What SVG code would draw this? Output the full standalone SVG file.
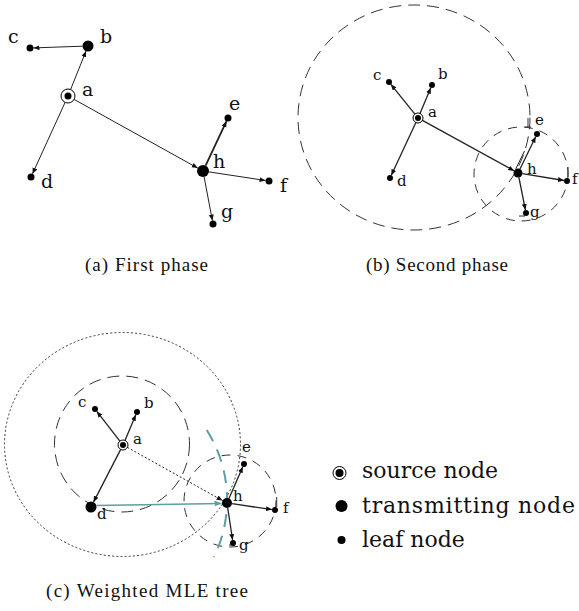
<svg xmlns="http://www.w3.org/2000/svg" width="579" height="611" viewBox="0 0 579 611">
<style>
  .lbl { font-family: "DejaVu Serif", serif; fill: #111; }
  .la { font-size: 19px; }
  .lb { font-size: 15px; }
  .cap { font-family: "Liberation Serif", "Times New Roman", serif; font-size: 19px; fill: #111; }
  .leg { font-family: "DejaVu Serif", serif; font-size: 22px; fill: #111; }
  .dot { fill: #000; }
  .ring { fill: none; stroke: #000; stroke-width: 1; }
  .edge { stroke: #222; stroke-width: 1; fill: none; marker-end: url(#ah); }
  .edge2 { stroke: #222; stroke-width: 1.3; fill: none; marker-end: url(#ah); }
  .dash { fill: none; stroke: #333; stroke-width: 1; stroke-dasharray: 12 7; }
  .dashs { fill: none; stroke: #333; stroke-width: 1; stroke-dasharray: 9 7; }
  .dotted { fill: none; stroke: #333; stroke-width: 1; stroke-dasharray: 2 2.2; }
  .teal { stroke: #5e9ea0; fill: none; }
  .tick { stroke: #333; stroke-width: 1; }
</style>
<defs>
  <marker id="ah" markerUnits="userSpaceOnUse" markerWidth="7" markerHeight="6" refX="6" refY="2.5" orient="auto">
    <path d="M0,0 L6,2.5 L0,5 z" fill="#111"/>
  </marker>
  <marker id="aht" markerUnits="userSpaceOnUse" markerWidth="8" markerHeight="7" refX="7" refY="3" orient="auto">
    <path d="M0,0 L7,3 L0,6 z" fill="#5e9ea0"/>
  </marker>
</defs>

<!-- ===== Panel (a) ===== -->
<g id="a-connectors">
  <line class="edge" x1="70.6" y1="89.5" x2="86" y2="51.1"/>
  <line class="edge" x1="82.5" y1="46.2" x2="33.5" y2="47.9"/>
  <line class="edge" x1="65.1" y1="102.4" x2="32.5" y2="173.8"/>
  <line class="edge" x1="74.1" y1="99.4" x2="197.8" y2="168.1"/>
  <line class="edge" x1="205.6" y1="165.6" x2="226.5" y2="121.2" style="stroke-width:1.8"/>
  <line class="edge" x1="208.9" y1="171.9" x2="265.5" y2="180.5"/>
  <line class="edge" x1="204.1" y1="176.9" x2="212.4" y2="220.6"/>
</g>
<g id="a-node-a"><circle class="ring" cx="68" cy="96" r="7"/><circle class="dot" cx="68" cy="96" r="3.5"/><text class="lbl la" x="82" y="96">a</text></g>
<g id="a-node-b"><circle class="dot" cx="88" cy="46" r="5.5"/><text class="lbl la" x="100" y="43">b</text></g>
<g id="a-node-c"><circle class="dot" cx="30" cy="48" r="3.5"/><text class="lbl la" x="8" y="43">c</text></g>
<g id="a-node-d"><circle class="dot" cx="31" cy="177" r="3.5"/><text class="lbl la" x="41" y="188">d</text></g>
<g id="a-node-h"><circle class="dot" cx="203" cy="171" r="6"/><text class="lbl la" x="213" y="168">h</text></g>
<g id="a-node-e"><circle class="dot" cx="228" cy="118" r="3.5"/><text class="lbl la" x="229" y="110">e</text></g>
<g id="a-node-f"><circle class="dot" cx="269" cy="181" r="3.5"/><text class="lbl la" x="280" y="192">f</text></g>
<g id="a-node-g"><circle class="dot" cx="213" cy="224" r="3.5"/><text class="lbl la" x="221" y="218">g</text></g>
<text class="cap" x="85" y="271" textLength="123" lengthAdjust="spacing">(a) First phase</text>

<!-- ===== Panel (b) ===== -->
<g id="b-ranges">
  <ellipse class="dash" cx="414" cy="117.5" rx="116" ry="112.5"/>
  <circle class="dashs" cx="521" cy="174" r="47"/>
  <line class="tick" x1="528" y1="118" x2="528" y2="127"/>
  <line class="tick" x1="525" y1="127" x2="531" y2="127"/>
  <line class="tick" x1="568" y1="167" x2="568" y2="177"/>
  <line class="tick" x1="519" y1="216" x2="525" y2="216"/>
</g>
<g id="b-connectors">
  <line class="edge2" x1="414.9" y1="114.1" x2="390.9" y2="84.3"/>
  <line class="edge2" x1="420" y1="113.4" x2="430.8" y2="87.8"/>
  <line class="edge2" x1="415.9" y1="122.5" x2="391.3" y2="175.3"/>
  <line class="edge2" x1="422.4" y1="120.4" x2="514.1" y2="170.8"/>
  <line class="edge2" x1="520" y1="169" x2="535.7" y2="136.7"/>
  <line stroke="#222" stroke-width="1" x1="515.8" y1="168.8" x2="524.5" y2="151"/>
  <line class="edge2" x1="522.4" y1="173.7" x2="564" y2="180.5"/>
  <line class="edge2" x1="518.9" y1="177.4" x2="525.4" y2="210"/>
</g>
<g id="b-node-a"><circle class="ring" cx="418" cy="118" r="5"/><circle class="dot" cx="418" cy="118" r="3"/><text class="lbl lb" x="428" y="117">a</text></g>
<g id="b-node-b"><circle class="dot" cx="432" cy="85" r="3"/><text class="lbl lb" x="438" y="79">b</text></g>
<g id="b-node-c"><circle class="dot" cx="389" cy="82" r="3"/><text class="lbl lb" x="373" y="80">c</text></g>
<g id="b-node-d"><circle class="dot" cx="390" cy="178" r="3"/><text class="lbl lb" x="397" y="186">d</text></g>
<g id="b-node-h"><circle class="dot" cx="518" cy="173" r="4.5"/><text class="lbl lb" x="527" y="174">h</text></g>
<g id="b-node-e"><circle class="dot" cx="537" cy="134" r="3"/><text class="lbl lb" x="535" y="125">e</text></g>
<g id="b-node-f"><circle class="dot" cx="567" cy="181" r="3"/><text class="lbl lb" x="572" y="184">f</text></g>
<g id="b-node-g"><circle class="dot" cx="526" cy="213" r="3"/><text class="lbl lb" x="530" y="217">g</text></g>
<text class="cap" x="366" y="271" textLength="142" lengthAdjust="spacing">(b) Second phase</text>

<!-- ===== Panel (c) ===== -->
<g id="c-ranges">
  <ellipse class="dotted" cx="122.5" cy="444.5" rx="118" ry="112"/>
  <ellipse class="dash" cx="122" cy="444" rx="67.5" ry="68"/>
  <circle class="dashs" cx="230" cy="501" r="46"/>
  <path class="teal" d="M206.7 430 A130.5 130.5 0 0 1 214 557" stroke-width="2" stroke-dasharray="13 9"/>
  <line class="tick" x1="276.7" y1="497" x2="276.7" y2="507"/>
  <line class="tick" x1="229" y1="545" x2="235" y2="545"/>
</g>
<g id="c-connectors">
  <line class="edge2" x1="119.9" y1="441.1" x2="96.8" y2="411.4"/>
  <line class="edge2" x1="125" y1="440.4" x2="135.8" y2="414.8"/>
  <line class="edge2" x1="120.7" y1="449.4" x2="93.5" y2="502.1"/>
  <line class="edge" x1="127.4" y1="447.4" x2="222.6" y2="500.6" style="stroke-dasharray:2 2"/>
  <line class="teal" x1="96.5" y1="505.5" x2="221.5" y2="503.5" stroke-width="1.6" marker-end="url(#aht)"/>
  <line class="edge2" x1="229" y1="498.4" x2="242.8" y2="466.8"/>
  <line class="edge2" x1="232" y1="503.7" x2="272" y2="509.6"/>
  <line class="edge2" x1="227.7" y1="508" x2="232.6" y2="540"/>
</g>
<g id="c-node-a"><circle class="ring" cx="123" cy="445" r="5"/><circle class="dot" cx="123" cy="445" r="3"/><text class="lbl lb" x="133" y="444">a</text></g>
<g id="c-node-b"><circle class="dot" cx="137" cy="412" r="3"/><text class="lbl lb" x="144" y="408">b</text></g>
<g id="c-node-c"><circle class="dot" cx="95" cy="409" r="3"/><text class="lbl lb" x="78" y="407">c</text></g>
<g id="c-node-d"><circle class="dot" cx="91" cy="507" r="5.5"/><text class="lbl lb" x="97" y="519">d</text></g>
<g id="c-node-h"><circle class="dot" cx="227" cy="503" r="5"/><text class="lbl lb" x="233" y="501">h</text></g>
<g id="c-node-e"><circle class="dot" cx="244" cy="464" r="3"/><text class="lbl lb" x="242" y="452">e</text></g>
<g id="c-node-f"><circle class="dot" cx="275" cy="510" r="3"/><text class="lbl lb" x="283" y="513">f</text></g>
<g id="c-node-g"><circle class="dot" cx="233" cy="543" r="3"/><text class="lbl lb" x="239" y="550">g</text></g>
<text class="cap" x="46" y="597" textLength="202" lengthAdjust="spacing">(c) Weighted MLE tree</text>

<!-- ===== Legend ===== -->
<g id="legend-source"><circle class="ring" cx="339.5" cy="473" r="6.5"/><circle class="dot" cx="339.5" cy="473" r="4"/><text class="leg" x="362" y="478">source node</text></g>
<g id="legend-transmitting"><circle class="dot" cx="341.5" cy="506" r="6"/><text class="leg" x="362" y="513" textLength="213" lengthAdjust="spacing">transmitting node</text></g>
<g id="legend-leaf"><circle class="dot" cx="341.5" cy="540" r="4"/><text class="leg" x="362" y="547">leaf node</text></g>
</svg>
